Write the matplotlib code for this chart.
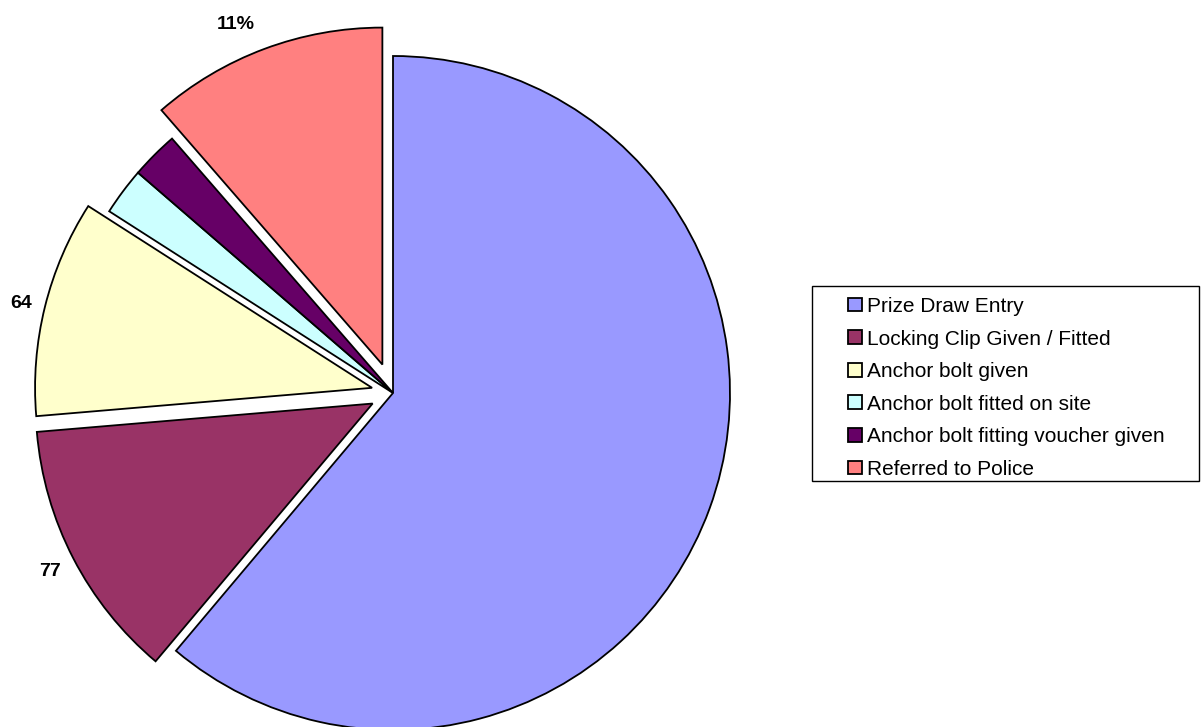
import matplotlib.pyplot as plt
import matplotlib.patches as mpatches
import numpy as np

plt.rcParams['font.family'] = ['Liberation Sans', 'DejaVu Sans']

# data
categories = ['Prize Draw Entry', 'Locking Clip Given / Fitted', 'Anchor bolt given',
              'Anchor bolt fitted on site', 'Anchor bolt fitting voucher given',
              'Referred to Police']
counts = [376, 77, 64, 14, 14, 70]
slice_labels = ['', '77', '64', '', '', '11%']

colors = ['#9999FF', '#993366', '#FFFFCC', '#CCFFFF', '#660066', '#FF8080']
explode = [0, 0.068, 0.064, 0, 0, 0.09]
label_dist = [1.05, 1.05, 1.04, 1.05, 1.05, 1.078]
label_turn = [0, 1.0, 0, 0, 0, 0]   # small angular nudge (deg)

# figure in pixels, pie centre and radius in pixels
W, H = 1201, 727
cx, cy, R = 393, 393, 337

fig = plt.figure(figsize=(W / 100, H / 100), dpi=100)
ax = fig.add_axes([0, 0, 1, 1])

wedges, texts = ax.pie(counts, labels=slice_labels, colors=colors, explode=explode,
                       startangle=90, counterclock=False, radius=1,
                       wedgeprops=dict(edgecolor='black', linewidth=1.3),
                       textprops=dict(fontsize=14, fontweight='bold'))

# put each label just outside its own slice
for w, t, d, dt in zip(wedges, texts, label_dist, label_turn):
    th = np.deg2rad((w.theta1 + w.theta2) / 2 + dt)
    t.set_position((w.center[0] + d * np.cos(th), w.center[1] + d * np.sin(th)))

ax.set_xlim(-cx / R, (W - cx) / R)
ax.set_ylim(-(H - cy) / R, cy / R)
ax.set_aspect('equal')
ax.axis('off')

# legend entries, frame drawn separately so the padding matches
leg = fig.legend(wedges, categories, loc='upper left',
                 bbox_to_anchor=(848 / W, 1 - 297 / H),
                 fontsize=15, frameon=False,
                 handlelength=0.67, handleheight=0.63, handletextpad=0.24,
                 labelspacing=0.65, borderpad=0, borderaxespad=0)

frame = mpatches.Rectangle((812 / W, 1 - 481 / H), 387 / W, 195 / H,
                           transform=fig.transFigure, fill=False,
                           edgecolor='black', linewidth=1.0)
fig.add_artist(frame)

fig.savefig('out.png', dpi=100)
